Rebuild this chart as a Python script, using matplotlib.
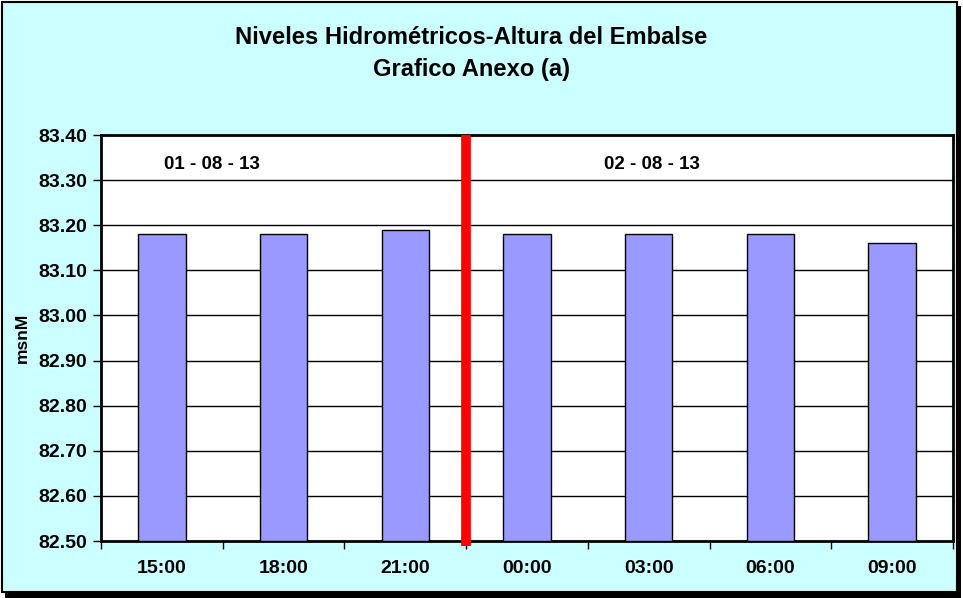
import matplotlib
matplotlib.use("Agg")
import matplotlib.pyplot as plt
from matplotlib.patches import Rectangle

categories = ["15:00", "18:00", "21:00", "00:00", "03:00", "06:00", "09:00"]
values = [83.18, 83.18, 83.19, 83.18, 83.18, 83.18, 83.16]
yticks = [82.50, 82.60, 82.70, 82.80, 82.90, 83.00, 83.10, 83.20, 83.30, 83.40]
day_labels = ["01 - 08 - 13", "02 - 08 - 13"]

plt.rcParams['font.family'] = ['Liberation Sans', 'DejaVu Sans']

W, H = 963, 598
fig = plt.figure(figsize=(W / 100, H / 100), dpi=100)
fig.patch.set_facecolor("white")

# outer frame with shadow
fig.patches.append(Rectangle((5 / W, 0 / H), 956 / W, 592 / H, transform=fig.transFigure,
                             facecolor="black", edgecolor="none", zorder=-3))
fig.patches.append(Rectangle((1.5 / W, 6 / H), 955 / W, 590 / H, transform=fig.transFigure,
                             facecolor="#CCFFFF", edgecolor="black", linewidth=1.5, zorder=-2))

L, R, T, B = 101, 953, 135, 541
ax = fig.add_axes([L / W, (H - B) / H, (R - L) / W, (B - T) / H])
ax.set_facecolor("white")

x = list(range(len(categories)))
base = yticks[0]
ax.bar(x, [v - base for v in values], bottom=base, width=0.39,
       color="#9999FF", edgecolor="black", linewidth=1, zorder=3)

ax.set_xlim(-0.5, len(categories) - 0.5)
ax.set_ylim(yticks[0], yticks[-1])
ax.set_yticks(yticks)
ax.set_yticklabels([f"{t:.2f}" for t in yticks], fontsize=14, fontweight="bold")
ax.yaxis.grid(True, color="black", linewidth=1)
ax.set_axisbelow(True)

ax.set_xticks([i - 0.5 for i in range(len(categories) + 1)])
ax.set_xticklabels([])
ax.set_xticks(x, minor=True)
ax.set_xticklabels(categories, minor=True, fontsize=14, fontweight="bold")
ax.tick_params(axis="x", which="major", direction="out", length=6, width=1, color="black")
ax.tick_params(axis="x", which="minor", length=0, pad=14)
ax.tick_params(axis="y", direction="out", length=6, width=1, pad=4)

for s in ax.spines.values():
    s.set_linewidth(2)
    s.set_color("black")

ax.set_ylabel("msnM", fontsize=12.5, fontweight="bold", labelpad=6)

# red divider between days
ax.plot([2.5, 2.5], [yticks[0] - 0.01, yticks[-1]], color="red", linewidth=7,
        zorder=5, clip_on=False, solid_capstyle="butt")

ax.text(0.41, 83.335, day_labels[0], ha="center", va="center", fontsize=13.5, fontweight="bold", zorder=6)
ax.text(4.03, 83.335, day_labels[1], ha="center", va="center", fontsize=13.5, fontweight="bold", zorder=6)

fig.text(471.5 / W, 1 - 37.5 / H, "Niveles Hidrométricos-Altura del Embalse",
         ha="center", va="center", fontsize=17.1, fontweight="bold")
fig.text(471.5 / W, 1 - 69.5 / H, "Grafico Anexo (a)",
         ha="center", va="center", fontsize=17.1, fontweight="bold")

fig.savefig("out.png", dpi=100, facecolor=fig.get_facecolor())
